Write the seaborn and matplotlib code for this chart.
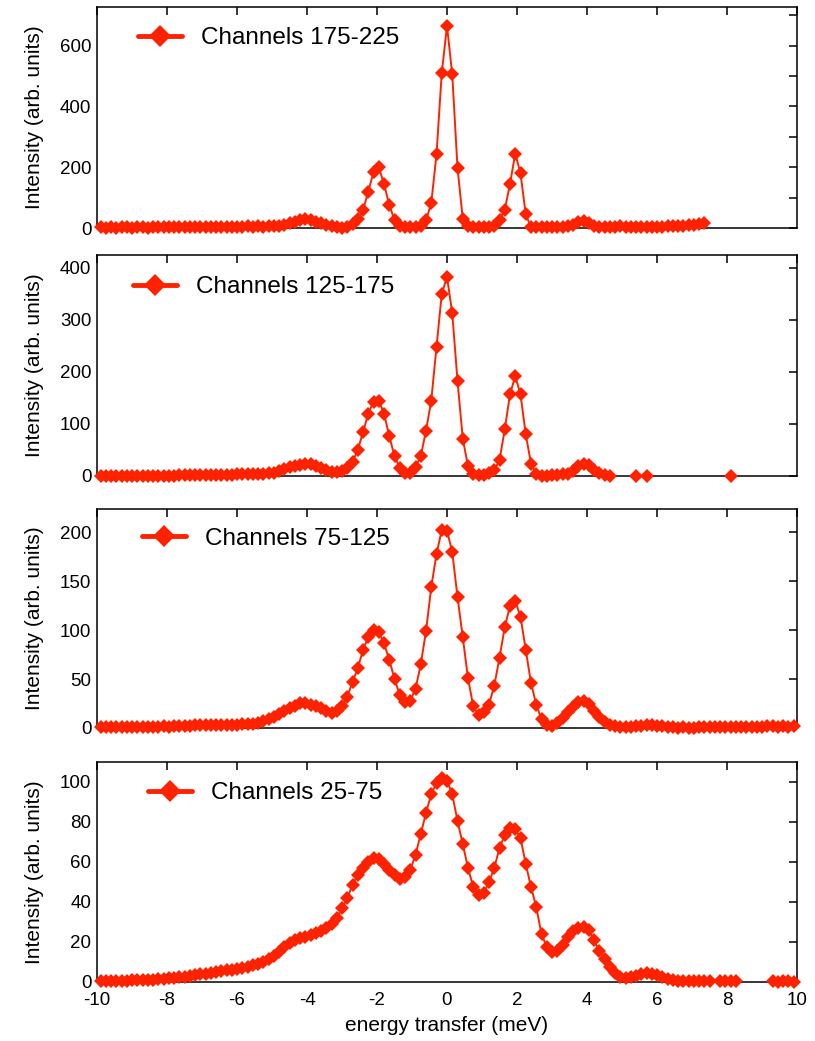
import numpy as np
import pandas as pd
import matplotlib
matplotlib.use("Agg")
import matplotlib.pyplot as plt
import seaborn as sns
from matplotlib.lines import Line2D

nan = np.nan

# energy transfer grid (meV)
energy = [
    -9.9, -9.75, -9.6, -9.45, -9.3, -9.15, -9.0, -8.85, -8.7, -8.55,
    -8.4, -8.25, -8.1, -7.95, -7.8, -7.65, -7.5, -7.35, -7.2, -7.05,
    -6.9, -6.75, -6.6, -6.45, -6.3, -6.15, -6.0, -5.85, -5.7, -5.55,
    -5.4, -5.25, -5.1, -4.95, -4.8, -4.65, -4.5, -4.35, -4.2, -4.05,
    -3.9, -3.75, -3.6, -3.45, -3.3, -3.15, -3.0, -2.85, -2.7, -2.55,
    -2.4, -2.25, -2.1, -1.95, -1.8, -1.65, -1.5, -1.35, -1.2, -1.05,
    -0.9, -0.75, -0.6, -0.45, -0.3, -0.15,
    0.0,
    0.15, 0.3, 0.45, 0.6, 0.75, 0.9, 1.05, 1.2, 1.35, 1.5,
    1.65, 1.8, 1.95, 2.1, 2.25, 2.4, 2.55, 2.7, 2.85, 3.0,
    3.15, 3.3, 3.45, 3.6, 3.75, 3.9, 4.05, 4.2, 4.35, 4.5,
    4.65, 4.8, 4.95, 5.1, 5.25, 5.4, 5.55, 5.7, 5.85, 6.0,
    6.15, 6.3, 6.45, 6.6, 6.75, 6.9, 7.05, 7.2, 7.35, 7.5,
    7.65, 7.8, 7.95, 8.1, 8.25, 8.4, 8.55, 8.7, 8.85, 9.0,
    9.15, 9.3, 9.45, 9.6, 9.75, 9.9,
]

ch_175_225 = [
    2, 1, 2, 1, 2, 2, 1, 2, 2, 1,
    2, 3, 2, 2, 3, 2, 2, 3, 3, 2,
    3, 3, 4, 3, 4, 3, 4, 4, 5, 4,
    5, 4, 5, 6, 8, 11, 15, 19, 26, 30,
    27, 21, 15, 10, 5, 2, 1, 4, 12, 30,
    58, 120, 183, 200, 145, 76, 26, 8, 3, 2,
    4, 8, 25, 82, 242, 510,
    665,
    505, 198, 31, 5, 2, 3, 4, 3, 6, 25,
    60, 145, 245, 180, 45, 3, 2, 3, 2, 3,
    3, 4, 6, 10, 20, 24, 15, 8, 4, 3,
    4, 3, 5, 4, 3, 4, 3, 4, 3, 4,
    4, 5, 5, 6, 7, 9, 10, 12, 17, nan,
    nan, nan, nan, nan, nan, nan, nan, nan, nan, nan,
    nan, nan, nan, nan, nan, nan,
]

ch_125_175 = [
    0.4, 0.5, 0.6, 0.5, 0.4, 0.5, 0.6, 0.5, 0.5, 0.6,
    0.6, 0.5, 0.7, 0.8, 0.8, 1.0, 1.2, 1.5, 1.8, 2.0,
    2.2, 2.3, 2.5, 2.6, 2.6, 2.8, 3.0, 3.0, 3.2, 3.3,
    3.5, 4.0, 5.0, 6.0, 9.0, 13.0, 16.5, 20.0, 22.0, 23.0,
    22.5, 20.0, 16.0, 11.0, 8.0, 7.5, 10.0, 16.0, 27.0, 50.0,
    84.0, 120.0, 143.0, 145.0, 120.0, 77.0, 38.0, 16.0, 6.0, 6.0,
    17.0, 38.0, 87.0, 145.0, 248.0, 350.0,
    383.0,
    313.0, 183.0, 72.0, 19.0, 3.0, 1.5, 2.0, 5.0, 12.0, 30.0,
    90.0, 157.0, 192.0, 157.0, 80.0, 24.0, 4.0, 0.5, 0.3, 1.0,
    2.0, 3.0, 4.5, 10.0, 20.0, 23.0, 22.0, 12.0, 5.0, 1.5,
    0.5, nan, nan, nan, nan, 0.3, nan, 0.3, nan, nan,
    nan, nan, nan, nan, nan, nan, nan, nan, nan, nan,
    nan, nan, nan, 0.3, nan, nan, nan, nan, nan, nan,
    nan, nan, nan, nan, nan, nan,
]

ch_75_125 = [
    1.5, 1.4, 1.5, 1.3, 1.4, 1.5, 1.4, 1.5, 1.3, 1.4,
    1.5, 1.4, 1.6, 1.5, 1.6, 1.8, 2.0, 2.3, 2.6, 2.8,
    3.0, 3.2, 3.3, 3.3, 3.4, 3.5, 3.5, 3.7, 4.0, 4.5,
    5.3, 6.8, 8.8, 11.2, 14.0, 17.0, 20.5, 23.0, 25.5, 25.5,
    24.0, 22.0, 20.0, 17.0, 15.0, 17.0, 23.0, 32.0, 47.0, 61.0,
    80.0, 93.0, 100.5, 98.5, 86.5, 70.0, 50.0, 34.0, 27.0, 28.0,
    40.0, 65.0, 99.0, 144.0, 178.0, 202.5,
    202.0,
    180.0, 134.0, 93.0, 51.0, 22.0, 13.5, 16.0, 24.0, 43.0, 72.0,
    103.0, 125.0, 130.0, 114.0, 80.0, 46.0, 24.0, 9.0, 3.0, 2.0,
    5.5, 10.5, 16.0, 21.0, 26.5, 28.0, 25.0, 17.5, 11.3, 6.0,
    3.5, 2.5, 1.5, 1.5, 1.2, 1.8, 2.0, 2.8, 3.5, 2.5,
    1.8, 1.2, 0.8, 0.5, 0.6, 0.3, 0.5, 0.8, 1.0, 1.2,
    1.0, 1.3, 1.2, 1.3, 1.0, 1.2, 1.4, 1.5, 1.2, 1.4,
    1.8, 2.0, 1.5, 1.8, 1.5, 2.0,
]

ch_25_75 = [
    0.5, 0.5, 0.6, 0.6, 0.7, 0.7, 0.8, 0.9, 1.0, 1.1,
    1.2, 1.4, 1.6, 1.8, 2.0, 2.3, 2.6, 3.0, 3.4, 3.8,
    4.2, 4.6, 5.0, 5.4, 5.8, 6.1, 6.4, 7.0, 7.6, 8.4,
    9.2, 10.2, 11.5, 13.0, 15.2, 17.5, 19.5, 21.0, 22.0, 22.7,
    23.5, 24.5, 25.7, 27.0, 29.0, 32.0, 37.0, 42.0, 48.5, 53.5,
    57.0, 60.0, 62.0, 61.5, 59.0, 56.0, 53.5, 51.3, 52.3, 56.0,
    63.5, 74.0, 84.5, 94.0, 99.5, 102.0,
    100.5,
    94.0, 80.5, 69.0, 57.0, 47.6, 43.3, 44.5, 50.0, 57.0, 67.0,
    73.6, 77.0, 76.3, 72.0, 59.0, 47.5, 37.5, 24.0, 17.5, 15.0,
    15.3, 18.5, 22.5, 25.5, 27.0, 27.4, 26.0, 21.0, 15.3, 11.3,
    7.5, 4.5, 2.6, 2.2, 2.5, 3.2, 3.9, 4.3, 4.0, 3.5,
    2.6, 1.5, 0.9, 0.6, 0.5, 0.4, 0.4, 0.4, 0.3, 0.3,
    nan, 0.3, 0.4, 0.3, 0.3, nan, nan, nan, nan, nan,
    nan, 0.3, 0.2, 0.3, 0.3, 0.2,
]

labels = ["Channels 175-225", "Channels 125-175", "Channels 75-125", "Channels 25-75"]
series = [ch_175_225, ch_125_175, ch_75_125, ch_25_75]
ytop = [727, 425, 224, 110]
ytick_step = [100, 100, 50, 20]
ylabel_every = [2, 1, 1, 1]
xticks = [-10, -8, -6, -4, -2, 0, 2, 4, 6, 8, 10]

RED = "#ff2200"

sns.set_theme(style="white")
plt.rcParams["font.family"] = ["Liberation Sans", "DejaVu Sans"]
plt.rcParams["text.color"] = "black"
plt.rcParams["axes.labelcolor"] = "black"
plt.rcParams["xtick.color"] = "black"
plt.rcParams["ytick.color"] = "black"

W, H = 815, 1041
fig = plt.figure(figsize=(W / 100, H / 100), dpi=100)

# axes boxes in pixels: (top, bottom)
boxes = [(7, 228), (255, 476), (509, 728), (762, 982)]
leg_pos = [(126, 38), (121, 287), (130, 539), (136, 793)]
x0, x1 = 97, 797

for i in range(4):
    top, bot = boxes[i]
    ax = fig.add_axes([x0 / W, 1 - bot / H, (x1 - x0) / W, (bot - top) / H])
    df = pd.DataFrame({"E": energy, "I": series[i]})
    df["seg"] = df["I"].isna().cumsum()
    df = df.dropna()
    sns.lineplot(data=df, x="E", y="I", units="seg", estimator=None, ax=ax,
                 color=RED, lw=1.4, marker="D", markersize=6.8,
                 markeredgewidth=0, legend=False, clip_on=False, zorder=3)
    ax.set_xlim(-10, 10)
    ax.set_ylim(0, ytop[i])
    ax.set_xticks(xticks)
    yt = list(range(0, ytop[i] + 1, ytick_step[i]))
    ax.set_yticks(yt)
    ax.set_yticklabels([str(v) if (k % ylabel_every[i] == 0) else "" for k, v in enumerate(yt)])
    ax.tick_params(direction="in", top=True, right=True, length=6, width=1.1,
                   labelsize=13.5, colors="black", pad=4)
    ax.tick_params(axis="x", pad=7)
    for s in ax.spines.values():
        s.set_linewidth(1.1)
        s.set_color("black")
    ax.set_ylabel("Intensity (arb. units)", fontsize=15, color="black")
    ax.yaxis.set_label_coords((44 - x0) / (x1 - x0), 0.5)
    if i < 3:
        ax.set_xticklabels([])
        ax.set_xlabel("")
    else:
        ax.set_xticklabels([str(v) for v in xticks])
        ax.set_xlabel("energy transfer (meV)", fontsize=15, color="black")
        ax.xaxis.set_label_coords(0.5, -(1016 - bot) / (bot - top))
    lx, ly = leg_pos[i]
    handle = Line2D([], [], color=RED, lw=3.5, marker="D", markersize=11,
                    markeredgewidth=0)
    leg = ax.legend([handle], [labels[i]], loc="center left", frameon=False,
                    bbox_to_anchor=((lx - x0) / (x1 - x0), (bot - ly) / (bot - top)),
                    borderpad=0, handlelength=1.8, handletextpad=0.8, fontsize=17.5)
    for t in leg.get_texts():
        t.set_color("black")

fig.savefig("out.png", dpi=100)
